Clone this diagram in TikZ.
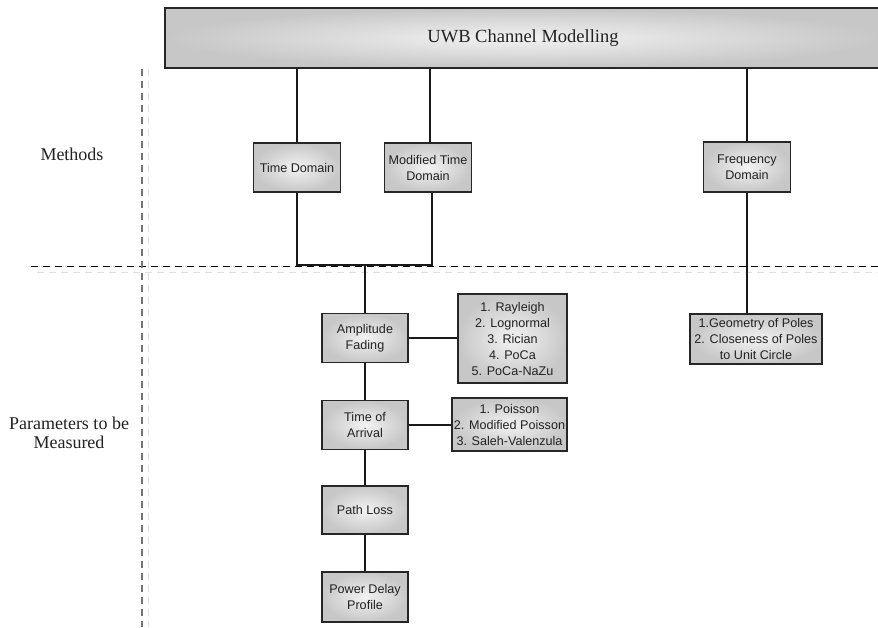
\documentclass[tikz,border=0pt]{standalone}
\usepackage{fontspec}
\setmainfont{Liberation Serif}
\newfontfamily\boxfont{Liberation Sans}
\usetikzlibrary{calc}
\definecolor{txt}{HTML}{222222}
\tikzset{
  gbox/.style={draw=black!85, line width=1.6pt, inner sep=0pt, align=center,
    shading=radial, inner color=black!5, outer color=black!22,
    font=\boxfont\fontsize{12.6}{16}\selectfont, text=txt},
  conn/.style={draw=black!90, line width=1.7pt},
  hconn/.style={draw=black!90, line width=2.2pt},
  lbl/.style={align=center, font=\fontsize{18}{18.5}\selectfont, text=txt},
  hdash/.style={draw=black, line width=0.9pt, dash pattern=on 7pt off 5pt},
  vdash/.style={draw=black!55, line width=1.3pt, dash pattern=on 7pt off 5pt},
  ghost/.style={draw=black!12, line width=1pt, dash pattern=on 7pt off 5pt},
}
\begin{document}
\begin{tikzpicture}[x=1pt,y=-1pt]
\useasboundingbox (0,0) rectangle (878,627);
% dashed separators
\coordinate (hl) at (31,266);
\coordinate (hr) at (878,266);
\coordinate (vt) at (142,69);
\coordinate (vb) at (142,627);
\draw[ghost] ($(hl)+(6,6)$) -- ($(hr)+(0,6)$);
\draw[ghost] ($(vt)+(6,0)$) -- ($(vb)+(6,0)$);
\draw[hdash] (hl) -- (hr);
\draw[vdash] (vt) -- (vb);
% labels
\node[lbl] (methods) at (72,154) {Methods};
\node[lbl] (params) at (69,433) {Parameters to be\\Measured};
% top box
\node[gbox, minimum width=716pt, minimum height=60pt,
  font=\fontsize{18.5}{20}\selectfont] (uwb) at (523,38) {UWB Channel Modelling};
% methods
\node[gbox, minimum width=87pt, minimum height=49pt] (td) at (297,167.5) {Time Domain};
\node[gbox, minimum width=87pt, minimum height=49pt] (mtd) at (428,167.5) {Modified Time\\Domain};
\node[gbox, minimum width=87pt, minimum height=50pt] (fd) at (747,167) {Frequency\\Domain};
% parameters
\node[gbox, minimum width=86pt, minimum height=49pt] (af) at (365,338) {Amplitude\\Fading};
\node[gbox, minimum width=109pt, minimum height=89pt] (l1) at (512.5,338.5)
  {1. Rayleigh\\2. Lognormal\\3. Rician\\4. PoCa\\5. PoCa-NaZu};
\node[gbox, minimum width=115pt, minimum height=53pt] (l2) at (509.5,424.5)
  {1. Poisson\\2. Modified Poisson\\3. Saleh-Valenzula};
\node[gbox, minimum width=86pt, minimum height=49pt] (toa) at (365,425) {Time of\\Arrival};
\node[gbox, minimum width=86pt, minimum height=48pt] (pl) at (365,510) {Path Loss};
\node[gbox, minimum width=86pt, minimum height=50pt] (pdp) at (365,597) {Power Delay\\Profile};
\node[gbox, minimum width=132pt, minimum height=50pt] (poles) at (756,339)
  {1.Geometry of Poles\\2. Closeness of Poles\\to Unit Circle};
% connectors
\coordinate (j) at (365,265);
\draw[conn] (uwb.south -| td.north) -- (td.north);
\draw[conn] ($(uwb.south -| mtd.north)+(2,0)$) -- ($(mtd.north)+(2,0)$);
\draw[conn] (uwb.south -| fd.north) -- (fd.north);
\draw[conn] (td.south) -- (td.south |- j) -- ($(mtd.south |- j)+(4,0)$) -- ($(mtd.south)+(4,0)$);
\draw[conn] (j) -- (af.north);
\draw[conn] (af.south) -- (toa.north);
\draw[conn] (toa.south) -- (pl.north);
\draw[conn] (pl.south) -- (pdp.north);
\draw[hconn] (af.east) -- (l1.west |- af.east);
\draw[hconn] (toa.east) -- (l2.west |- toa.east);
\draw[conn] (fd.south) -- (fd.south |- poles.north);
\end{tikzpicture}
\end{document}
